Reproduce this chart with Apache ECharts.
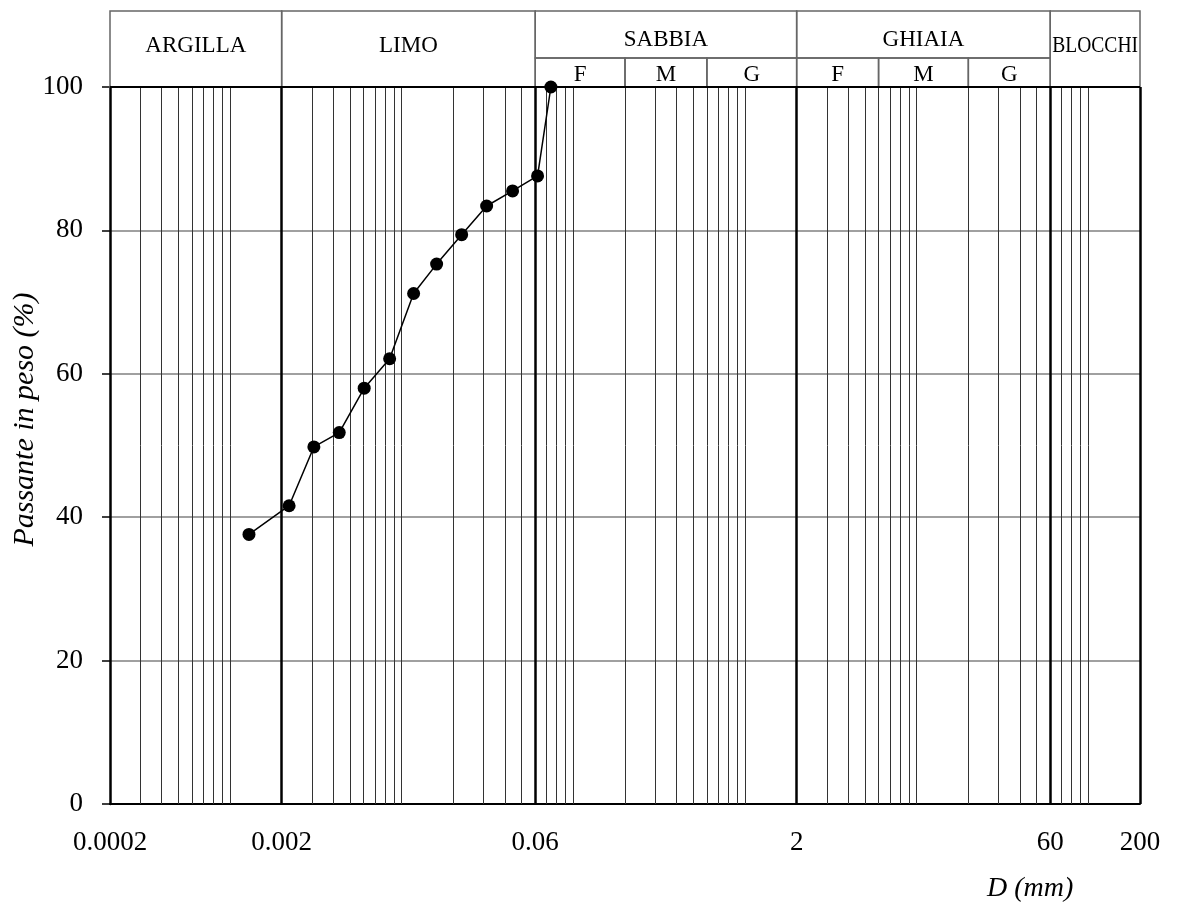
<!doctype html>
<html lang="it">
<head>
    <meta charset="UTF-8">
    <title>Curva granulometrica</title>
    <script src="https://cdn.jsdelivr.net/npm/echarts@6/dist/echarts.min.js"></script>
    <style>
        body { margin: 0; background-color: #fff; }
        #granChart { width: 1188px; height: 903px; }
    </style>
</head>
<body>
    <div id="granChart"></div>

    <script>
        // --- dati della curva ---
        const diametri = [0.00129, 0.00221, 0.00308, 0.00433, 0.00605, 0.00851, 0.01174, 0.01598, 0.02236, 0.03126, 0.04428, 0.0619, 0.074];
        const passante = [37.6, 41.6, 49.8, 51.8, 58.0, 62.1, 71.2, 75.3, 79.4, 83.4, 85.5, 87.6, 100];

        // --- assi e classi ---
        const etichetteX = [0.0002, 0.002, 0.06, 2, 60, 200];
        const limitiClassi = [0.0002, 0.002, 0.06, 2, 60, 200];
        const nomiClassi = ['ARGILLA', 'LIMO', 'SABBIA', 'GHIAIA', 'BLOCCHI'];
        const limitiSabbia = [0.06, 0.2, 0.6, 2];
        const limitiGhiaia = [2, 6, 20, 60];
        const nomiSotto = ['F', 'M', 'G'];
        const mantisse = [1, 2, 3, 4, 5, 6, 7, 8, 9];
        const decadi = [-4, -3, -2, -1, 0, 1, 2];

        const FONT = 'Liberation Serif';
        const H_TOT = 76, H_SUB = 29;   // altezza intestazione / riga F-M-G

        const vicino = (a, b) => Math.abs(a - b) / b < 1e-6;

        // linee verticali sottili (1..9 x 10^n) e spesse (limiti classi)
        const lineeSottili = [];
        decadi.forEach(d => mantisse.forEach(m => {
            const v = m * Math.pow(10, d);
            if (v > 0.0002 && v < 200 && !limitiClassi.some(l => vicino(v, l))) lineeSottili.push(v);
        }));
        const lineeSpesse = limitiClassi.slice(1);

        // celle dell'intestazione (riga: 0 intera, 1 alta, 2 bassa)
        const celle = [];
        nomiClassi.forEach((n, i) => {
            const diviso = (n === 'SABBIA' || n === 'GHIAIA');
            celle.push({ x0: limitiClassi[i], x1: limitiClassi[i + 1], y0: diviso ? H_SUB : 0, y1: H_TOT, testo: n, riga: diviso ? 1 : 0 });
        });
        [limitiSabbia, limitiGhiaia].forEach(lim => nomiSotto.forEach((n, i) => {
            celle.push({ x0: lim[i], x1: lim[i + 1], y0: 0, y1: H_SUB, testo: n, riga: 2 });
        }));
        const spostaTesto = [-3, 5, 2];

        const misura = document.createElement('canvas').getContext('2d');
        misura.font = '23px "' + FONT + '"';

        function disegnaCella(params, api) {
            const c = celle[params.dataIndex];
            const p0 = api.coord([c.x0, c.y1]);
            const p1 = api.coord([c.x1, c.y0]);
            const w = p1[0] - p0[0];
            const tw = misura.measureText(c.testo).width;
            return {
                type: 'group',
                children: [
                    {
                        type: 'rect',
                        shape: { x: p0[0], y: p0[1], width: w, height: p1[1] - p0[1] },
                        style: { fill: 'none', stroke: '#666', lineWidth: 1.5 }
                    },
                    {
                        type: 'text',
                        x: (p0[0] + p1[0]) / 2,
                        y: (p0[1] + p1[1]) / 2 + spostaTesto[c.riga],
                        scaleX: Math.min(1, (w - 4) / tw),
                        style: {
                            text: c.testo, x: 0, y: 0, align: 'center', verticalAlign: 'middle',
                            fontSize: 23, fontFamily: FONT, fill: '#000'
                        }
                    }
                ]
            };
        }

        const chart = echarts.init(document.getElementById('granChart'));
        chart.setOption({
            animation: false,
            textStyle: { fontFamily: FONT },
            grid: [
                { left: 110, right: 48, top: 87, bottom: 99, outerBoundsMode: 'none', containLabel: false },
                { left: 110, right: 48, top: 11, height: H_TOT, outerBoundsMode: 'none', containLabel: false }
            ],
            xAxis: [
                {
                    type: 'log', logBase: 10, min: 0.0002, max: 200, gridIndex: 0,
                    axisLine: { lineStyle: { color: '#000', width: 2 } },
                    axisTick: { show: false },
                    splitLine: { show: false },
                    axisLabel: {
                        customValues: etichetteX,
                        formatter: v => { const e = etichetteX.find(t => vicino(v, t)); return e === undefined ? '' : String(e); },
                        fontSize: 27, color: '#000', margin: 25
                    }
                },
                { type: 'log', logBase: 10, min: 0.0002, max: 200, gridIndex: 1, show: false }
            ],
            yAxis: [
                {
                    type: 'value', min: 0, max: 100, interval: 20, gridIndex: 0,
                    axisLine: { show: true, lineStyle: { color: '#000', width: 2.5 } },
                    axisTick: { show: true, length: 8, lineStyle: { color: '#000', width: 1.5 } },
                    axisLabel: { fontSize: 27, color: '#000', margin: 27 },
                    splitLine: { lineStyle: { color: '#808080', width: 1.5 } },
                    name: 'Passante in peso (%)', nameLocation: 'middle', nameGap: 70, nameMoveOverlap: false,
                    nameTextStyle: { fontSize: 30, fontStyle: 'italic', color: '#000', padding: [0, 0, 0, 52] }
                },
                { type: 'value', min: 0, max: H_TOT, gridIndex: 1, show: false }
            ],
            graphic: [{
                type: 'text', left: 987, top: 875,
                style: { text: 'D (mm)', fontSize: 28, fontStyle: 'italic', fontFamily: FONT, fill: '#000' }
            }],
            series: [
                {
                    type: 'custom', xAxisIndex: 1, yAxisIndex: 1, silent: true,
                    renderItem: disegnaCella,
                    encode: { x: [0, 1], y: [2, 3] },
                    data: celle.map(c => [c.x0, c.x1, c.y0, c.y1])
                },
                {
                    type: 'line', data: [], silent: true, z: 1,
                    markLine: {
                        silent: true, precision: 10, symbol: ['none', 'none'], label: { show: false }, animation: false,
                        data: [].concat(
                            lineeSottili.map(v => ({ xAxis: v, lineStyle: { color: '#333', width: 1, type: 'solid' } })),
                            lineeSpesse.map(v => ({ xAxis: v, lineStyle: { color: '#000', width: 2.5, type: 'solid' } })),
                            [{ yAxis: 100, lineStyle: { color: '#000', width: 2, type: 'solid' } }]
                        )
                    }
                },
                {
                    type: 'line', z: 5, clip: false,
                    data: diametri.map((d, i) => [d, passante[i]]),
                    symbol: 'circle', symbolSize: 13,
                    itemStyle: { color: '#000' },
                    lineStyle: { color: '#000', width: 1.5 }
                }
            ]
        });
    </script>
</body>
</html>
